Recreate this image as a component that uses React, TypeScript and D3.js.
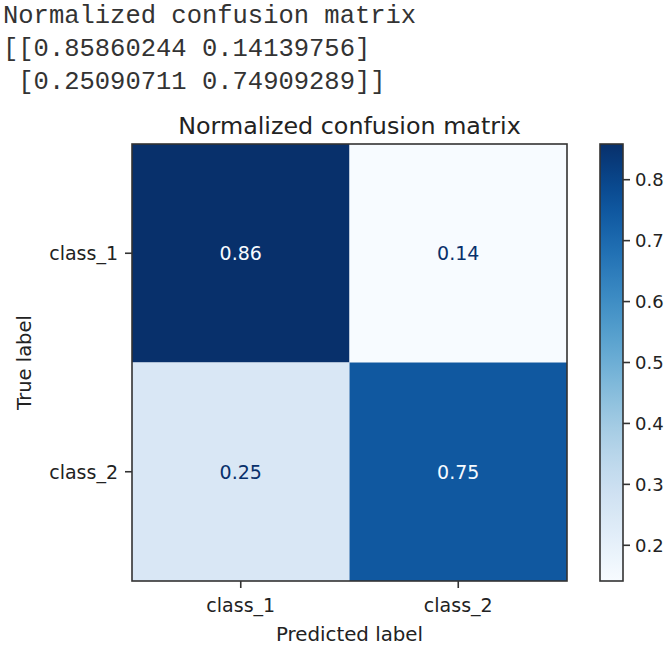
import React from "react";
import * as d3 from "d3";

// Confusion matrix values (rows = true class, columns = predicted class)
const classes = ["class_1", "class_2"];
const row1 = [0.85860244, 0.14139756];
const row2 = [0.25090711, 0.74909289];
const matrix = [row1, row2];
const colorbarTicks = [0.2, 0.3, 0.4, 0.5, 0.6, 0.7, 0.8];
const printedLines = [
  "Normalized confusion matrix",
  "[[0.85860244 0.14139756]",
  " [0.25090711 0.74909289]]",
];

const W = 669;
const H = 646;
const plot = { left: 132, right: 567, top: 144, bottom: 581 };
const cbar = { left: 600, right: 623 };
const FONT = "'DejaVu Sans', sans-serif";

export default function App() {
  const values = matrix.flat();
  const vmin = d3.min(values) as number;
  const vmax = d3.max(values) as number;

  const x = d3.scaleBand<string>().domain(classes).range([plot.left, plot.right]);
  const y = d3.scaleBand<string>().domain(classes).range([plot.top, plot.bottom]);
  const color = d3.scaleSequential(d3.interpolateBlues).domain([vmin, vmax]);
  const cy = d3.scaleLinear().domain([vmin, vmax]).range([plot.bottom, plot.top]);

  const textLow = color(vmax);
  const textHigh = color(vmin);
  const thresh = (vmin + vmax) / 2;

  const stops = d3.range(0, 1.0001, 0.05);

  return (
    <svg
      width={W}
      height={H}
      style={{ position: "absolute", left: 0, top: 0, background: "#fff" }}
    >
      <defs>
        <linearGradient id="cbarGrad" x1="0" y1="1" x2="0" y2="0">
          {stops.map((t) => (
            <stop key={t} offset={t} stopColor={color(vmin + t * (vmax - vmin))} />
          ))}
        </linearGradient>
      </defs>

      {/* printed output above the figure */}
      {printedLines.map((line, i) => (
        <text
          key={i}
          x={3}
          y={23 + i * 33}
          fontFamily="'Liberation Mono', 'DejaVu Sans Mono', monospace"
          fontSize={25.5}
          fill="#333"
          style={{ whiteSpace: "pre" }}
        >
          {line}
        </text>
      ))}

      {/* title */}
      <text
        x={(plot.left + plot.right) / 2}
        y={134}
        textAnchor="middle"
        fontFamily={FONT}
        fontSize={23.8}
        fill="#222"
      >
        Normalized confusion matrix
      </text>

      {/* cells */}
      {matrix.map((row, i) =>
        row.map((v, j) => (
          <g key={`${i}-${j}`}>
            <rect
              x={x(classes[j])}
              y={y(classes[i])}
              width={x.bandwidth()}
              height={y.bandwidth()}
              fill={color(v)}
            />
            <text
              x={(x(classes[j]) as number) + x.bandwidth() / 2}
              y={(y(classes[i]) as number) + y.bandwidth() / 2}
              textAnchor="middle"
              dominantBaseline="central"
              fontFamily={FONT}
              fontSize={19}
              fill={v > thresh ? textHigh : textLow}
            >
              {v.toFixed(2)}
            </text>
          </g>
        ))
      )}

      {/* frame */}
      <rect
        x={plot.left}
        y={plot.top}
        width={plot.right - plot.left}
        height={plot.bottom - plot.top}
        fill="none"
        stroke="#333"
        strokeWidth={1.6}
      />

      {/* y axis */}
      {classes.map((c) => {
        const yy = (y(c) as number) + y.bandwidth() / 2;
        return (
          <g key={`y-${c}`}>
            <line x1={plot.left - 7} x2={plot.left} y1={yy} y2={yy} stroke="#333" strokeWidth={1.6} />
            <text
              x={plot.left - 14}
              y={yy}
              textAnchor="end"
              dominantBaseline="central"
              fontFamily={FONT}
              fontSize={19}
              fill="#222"
            >
              {c}
            </text>
          </g>
        );
      })}
      <text
        transform={`translate(31, ${(plot.top + plot.bottom) / 2}) rotate(-90)`}
        textAnchor="middle"
        fontFamily={FONT}
        fontSize={19.5}
        fill="#222"
      >
        True label
      </text>

      {/* x axis */}
      {classes.map((c) => {
        const xx = (x(c) as number) + x.bandwidth() / 2;
        return (
          <g key={`x-${c}`}>
            <line x1={xx} x2={xx} y1={plot.bottom} y2={plot.bottom + 7} stroke="#333" strokeWidth={1.6} />
            <text
              x={xx}
              y={612}
              textAnchor="middle"
              fontFamily={FONT}
              fontSize={19}
              fill="#222"
            >
              {c}
            </text>
          </g>
        );
      })}
      <text
        x={(plot.left + plot.right) / 2}
        y={641}
        textAnchor="middle"
        fontFamily={FONT}
        fontSize={19.8}
        fill="#222"
      >
        Predicted label
      </text>

      {/* colorbar */}
      <rect
        x={cbar.left}
        y={plot.top}
        width={cbar.right - cbar.left}
        height={plot.bottom - plot.top}
        fill="url(#cbarGrad)"
        stroke="#333"
        strokeWidth={1.6}
      />
      {colorbarTicks.map((t) => (
        <g key={`c-${t}`}>
          <line x1={cbar.right} x2={cbar.right + 7} y1={cy(t)} y2={cy(t)} stroke="#333" strokeWidth={1.6} />
          <text
            x={cbar.right + 12}
            y={cy(t)}
            dominantBaseline="central"
            fontFamily={FONT}
            fontSize={18}
            fill="#222"
          >
            {t.toFixed(1)}
          </text>
        </g>
      ))}
    </svg>
  );
}
